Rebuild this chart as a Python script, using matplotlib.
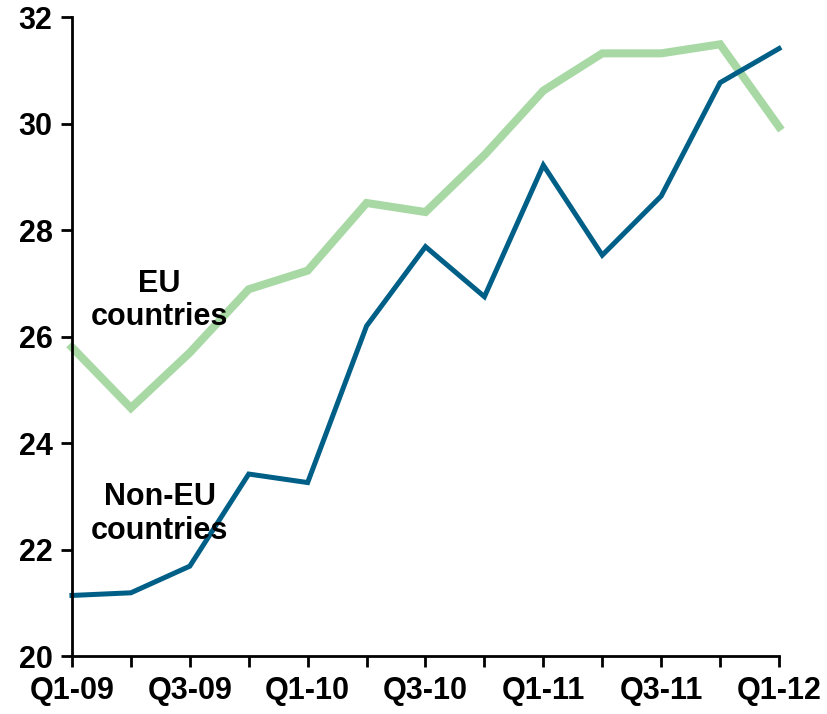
import matplotlib
matplotlib.use('Agg')
import matplotlib.pyplot as plt

plt.rcParams['font.family'] = ['Liberation Sans Narrow', 'Liberation Sans', 'DejaVu Sans']
plt.rcParams['font.weight'] = 'bold'

quarters = ['Q1-09', 'Q2-09', 'Q3-09', 'Q4-09', 'Q1-10', 'Q2-10', 'Q3-10',
            'Q4-10', 'Q1-11', 'Q2-11', 'Q3-11', 'Q4-11', 'Q1-12']
eu = [25.8, 24.66, 25.7, 26.89, 27.24, 28.51, 28.34,
      29.41, 30.62, 31.32, 31.32, 31.49, 29.94]
non_eu = [21.14, 21.19, 21.69, 23.42, 23.26, 26.2, 27.69,
          26.75, 29.22, 27.53, 28.64, 30.77, 31.41]
yticks = [20, 22, 24, 26, 28, 30, 32]

x = list(range(len(quarters)))

fig = plt.figure(figsize=(8.27, 7.14), dpi=100)
ax = fig.add_axes([0.087, 0.081, 0.855, 0.895])

ax.plot(x, eu, color='#a8d9a5', linewidth=5.8, solid_joinstyle='miter', clip_on=False)
ax.plot(x, non_eu, color='#005f87', linewidth=3.6, solid_joinstyle='miter', clip_on=False)

ax.text(1.49, 26.68, 'EU\ncountries', ha='center', va='center', fontsize=22,
        fontweight='bold', linespacing=1.15)
ax.text(1.49, 22.67, 'Non-EU\ncountries', ha='center', va='center', fontsize=22,
        fontweight='bold', linespacing=1.15)

ax.set_xlim(0, 12)
ax.set_ylim(20, 32)
ax.set_xticks(x)
ax.set_xticklabels([q if i % 2 == 0 else '' for i, q in enumerate(quarters)])
ax.set_yticks(yticks)

for s in ['top', 'right']:
    ax.spines[s].set_visible(False)
for s in ['left', 'bottom']:
    ax.spines[s].set_linewidth(2)
ax.tick_params(direction='out', length=8, width=2, labelsize=22, pad=6)
for lbl in ax.get_xticklabels() + ax.get_yticklabels():
    lbl.set_fontweight('bold')

fig.savefig('out.png', dpi=100, facecolor='white')
